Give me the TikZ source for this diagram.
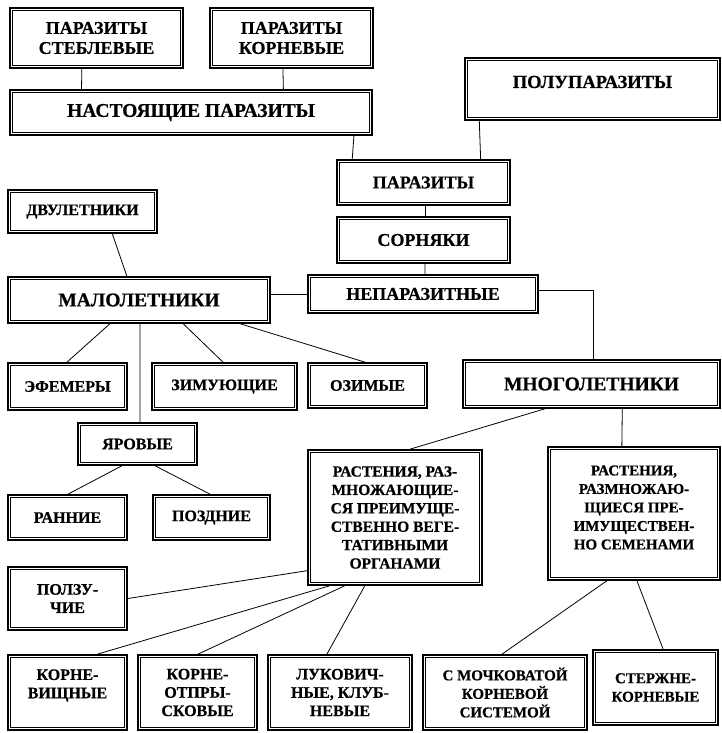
\documentclass[tikz,border=0pt]{standalone}
\usepackage{fontspec}
\setmainfont{Liberation Serif}[BoldFeatures={FakeBold=0.6}]
\usetikzlibrary{calc}
\begin{document}
\begin{tikzpicture}[x=1pt,y=-1pt,
  box/.style={draw, line width=1.7pt, inner sep=0pt, align=center,
    font=\bfseries\fontsize{16}{18.3}\selectfont,
    path picture={\draw[line width=0.9pt] ([xshift=2.7pt,yshift=-2.7pt]path picture bounding box.north west) rectangle ([xshift=-2.7pt,yshift=2.7pt]path picture bounding box.south east);}},
  txt/.style={inner sep=0pt, align=center, font=\bfseries\fontsize{16}{18.3}\selectfont},
  big/.style={font=\bfseries\fontsize{19.5}{22}\selectfont},
  mid/.style={font=\bfseries\fontsize{18}{20}\selectfont},
  sm/.style={font=\bfseries\fontsize{15}{18.5}\selectfont},
  conn/.style={line width=0.8pt}]
\useasboundingbox (0,0) rectangle (722,733);
% top
\node[box,mid,minimum width=173pt,minimum height=60pt] (stebl) at (96.5,38) {ПАРАЗИТЫ\\СТЕБЛЕВЫЕ};
\node[box,mid,minimum width=163pt,minimum height=60pt] (korn) at (291.5,38) {ПАРАЗИТЫ\\КОРНЕВЫЕ};
\node[box,big,minimum width=362pt,minimum height=45pt] (nast) at (191,112.5) {НАСТОЯЩИЕ ПАРАЗИТЫ};
\node[box,font=\bfseries\fontsize{18.5}{20}\selectfont,minimum width=255pt,minimum height=62pt,text height=13pt,text depth=15pt] (polu) at (592.5,89) {ПОЛУПАРАЗИТЫ};
\node[box,mid,minimum width=173pt,minimum height=45pt] (paraz) at (423.5,182.5) {ПАРАЗИТЫ};
\node[box,mid,minimum width=173pt,minimum height=46pt] (sorn) at (423.5,240) {СОРНЯКИ};
\node[box,mid,minimum width=230pt,minimum height=38pt] (nepar) at (423,294) {НЕПАРАЗИТНЫЕ};
% left
\node[box,minimum width=149pt,minimum height=43pt] (dvul) at (82.5,211.5) {ДВУЛЕТНИКИ};
\node[box,big,minimum width=262pt,minimum height=46pt] (malol) at (139,300) {МАЛОЛЕТНИКИ};
\node[box,minimum width=119pt,minimum height=47pt] (efem) at (67.5,386.5) {ЭФЕМЕРЫ};
\node[box,minimum width=145pt,minimum height=47pt] (zim) at (224.5,386.5) {ЗИМУЮЩИЕ};
\node[box,minimum width=119pt,minimum height=45pt] (ozim) at (367.5,385.5) {ОЗИМЫЕ};
\node[box,big,minimum width=257pt,minimum height=48pt] (mnog) at (591.5,384) {МНОГОЛЕТНИКИ};
\node[box,minimum width=119pt,minimum height=42pt] (yar) at (137.5,444) {ЯРОВЫЕ};
\node[box,minimum width=119pt,minimum height=45pt] (rann) at (67.5,517.5) {РАННИЕ};
\node[box,minimum width=117pt,minimum height=45pt] (pozd) at (211.5,517.5) {ПОЗДНИЕ};
\node[box,font=\bfseries\fontsize{15.5}{18.4}\selectfont,minimum width=174pt,minimum height=135pt] (rastveg) at (395,517.5) {РАСТЕНИЯ, РАЗ-\\МНОЖАЮЩИЕ-\\СЯ ПРЕИМУЩЕ-\\СТВЕННО ВЕГЕ-\\ТАТИВНЫМИ\\ОРГАНАМИ};
\node[box,minimum width=172pt,minimum height=133pt] (rastseed) at (634,513.5) {};
\node[txt,sm] (rastseedtext) at ($(rastseed.center)+(0,-6)$) {РАСТЕНИЯ,\\РАЗМНОЖАЮ-\\ЩИЕСЯ ПРЕ-\\ИМУЩЕСТВЕН-\\НО СЕМЕНАМИ};
\node[box,minimum width=119pt,minimum height=63pt] (polz) at (67.5,598.5) {ПОЛЗУ-\\ЧИЕ};
\node[box,minimum width=119pt,minimum height=75pt] (kornev) at (67.5,692.5) {};
\node[txt] (kornevtext) at ($(kornev.center)+(0,-7)$) {КОРНЕ-\\ВИЩНЫЕ};
\node[box,minimum width=119pt,minimum height=75pt] (kornotp) at (197.5,692.5) {КОРНЕ-\\ОТПРЫ-\\СКОВЫЕ};
\node[box,minimum width=144pt,minimum height=75pt] (lukov) at (340,692.5) {ЛУКОВИЧ-\\НЫЕ, КЛУБ-\\НЕВЫЕ};
\node[box,sm,minimum width=164pt,minimum height=75pt] (mochk) at (505,692.5) {С МОЧКОВАТОЙ\\КОРНЕВОЙ\\СИСТЕМОЙ};
\node[box,sm,minimum width=125pt,minimum height=75pt] (sterzh) at (655.5,687.5) {СТЕРЖНЕ-\\КОРНЕВЫЕ};
% connectors
\draw[conn] ($(stebl.south west)!0.416!(stebl.south east)$) -- ($(nast.north west)!0.199!(nast.north east)$);
\draw[conn] ($(korn.south west)!0.448!(korn.south east)$) -- ($(nast.north west)!0.754!(nast.north east)$);
\draw[conn] ($(nast.south west)!0.948!(nast.south east)$) -- ($(paraz.north west)!0.092!(paraz.north east)$);
\draw[conn] ($(polu.south west)!0.059!(polu.south east)$) -- ($(paraz.north west)!0.827!(paraz.north east)$);
\draw[conn] ($(paraz.south west)!0.509!(paraz.south east)$) -- ($(sorn.north west)!0.509!(sorn.north east)$);
\draw[conn] ($(sorn.south west)!0.509!(sorn.south east)$) -- ($(nepar.north west)!0.509!(nepar.north east)$);
\draw[conn] ($(dvul.south west)!0.698!(dvul.south east)$) -- ($(malol.north west)!0.454!(malol.north east)$);
\draw[conn] (nepar.west -| malol.east) -- (nepar.west);
\draw[conn] ($(nepar.north east)!0.4!(nepar.south east)$) -| ($(mnog.north west)!0.506!(mnog.north east)$);
\draw[conn] ($(malol.south west)!0.389!(malol.south east)$) -- ($(efem.north west)!0.496!(efem.north east)$);
\draw[conn] ($(malol.south west)!0.504!(malol.south east)$) -- ($(yar.north west)!0.521!(yar.north east)$);
\draw[conn] ($(malol.south west)!0.668!(malol.south east)$) -- ($(zim.north west)!0.49!(zim.north east)$);
\draw[conn] ($(malol.south west)!0.885!(malol.south east)$) -- ($(ozim.north west)!0.479!(ozim.north east)$);
\draw[conn] ($(yar.south west)!0.37!(yar.south east)$) -- ($(rann.north west)!0.504!(rann.north east)$);
\draw[conn] ($(yar.south west)!0.647!(yar.south east)$) -- ($(pozd.north west)!0.487!(pozd.north east)$);
\draw[conn] ($(mnog.south west)!0.319!(mnog.south east)$) -- ($(rastveg.north west)!0.586!(rastveg.north east)$);
\draw[conn] ($(mnog.south west)!0.619!(mnog.south east)$) -- ($(rastseed.north west)!0.43!(rastseed.north east)$);
\draw[conn] ($(rastveg.north west)!0.889!(rastveg.south west)$) -- (polz.east);
\draw[conn] ($(rastveg.south west)!0.126!(rastveg.south east)$) -- ($(kornev.north west)!0.748!(kornev.north east)$);
\draw[conn] ($(rastveg.south west)!0.213!(rastveg.south east)$) -- ($(kornotp.north west)!0.504!(kornotp.north east)$);
\draw[conn] ($(rastveg.south west)!0.328!(rastveg.south east)$) -- ($(lukov.north west)!0.41!(lukov.north east)$);
\draw[conn] ($(rastseed.south west)!0.343!(rastseed.south east)$) -- ($(mochk.north west)!0.482!(mochk.north east)$);
\draw[conn] ($(rastseed.south west)!0.517!(rastseed.south east)$) -- ($(sterzh.north west)!0.56!(sterzh.north east)$);
\end{tikzpicture}
\end{document}
